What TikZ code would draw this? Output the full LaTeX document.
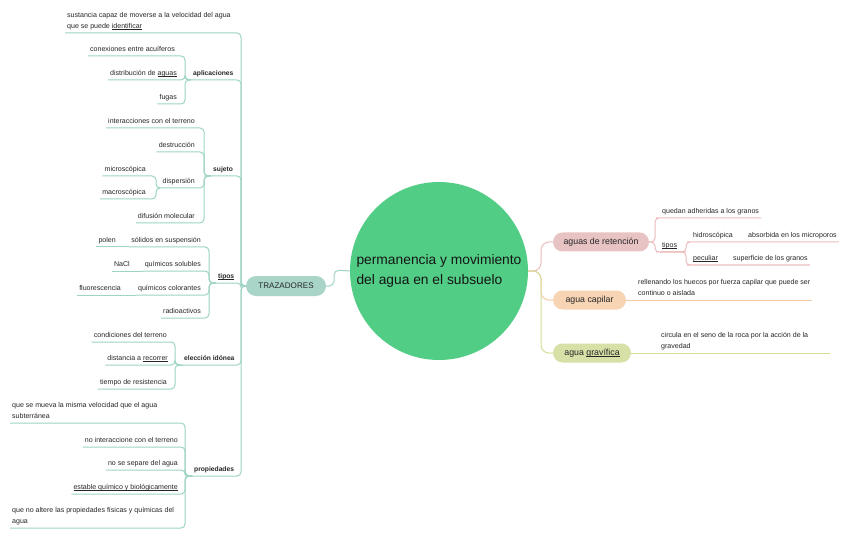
\documentclass[tikz,border=0pt]{standalone}
\usepackage{fontspec}
\setmainfont{Liberation Sans}
\usetikzlibrary{calc}
\definecolor{tealc}{HTML}{9DD4C4}
\definecolor{trzf}{HTML}{A8D5C8}
\definecolor{circf}{HTML}{52CD85}
\definecolor{pinkf}{HTML}{E8C3C4}
\definecolor{pinkl}{HTML}{EDBDBD}
\definecolor{peachf}{HTML}{F7D4B4}
\definecolor{peachl}{HTML}{F3CBA3}
\definecolor{greenf}{HTML}{D7E0A7}
\definecolor{greenl}{HTML}{D6DE98}
\definecolor{txt}{HTML}{262626}
\definecolor{ttl}{HTML}{151515}
\newcommand\myul[1]{\setbox0=\hbox{#1}\rlap{\rule[-1.3pt]{\wd0}{0.45pt}}\box0}
\newcommand\lastd{\rule[-2pt]{0pt}{0pt}}
\begin{document}
\begin{tikzpicture}[x=1pt,y=-1pt,
  lf/.style={font=\fontsize{7.05}{11}\selectfont, text=txt, inner xsep=2pt, inner ysep=2.5pt, text height=5.5pt, text depth=2pt},
  ml/.style={font=\fontsize{7.05}{11}\selectfont, text=txt, inner xsep=2pt, inner ysep=2.5pt, align=left},
  bf/.style={lf, font=\fontsize{6.7}{11}\selectfont\bfseries},
  pill/.style={rounded corners=9.5pt, minimum height=19pt, inner sep=0pt, font=\fontsize{8.8}{10}\selectfont, text=txt},
  tl/.style={draw=tealc, line width=1pt, rounded corners=4pt},
  pl/.style={draw=pinkl, line width=1pt, rounded corners=4pt},
  cl/.style={draw=peachl, line width=1pt, rounded corners=8pt},
  gl/.style={draw=greenl, line width=1pt, rounded corners=8pt}]
\fill[white] (0,0) rectangle (848,537);
\useasboundingbox (0,0) rectangle (848,537);

% centre
\node[circle, fill=circf, minimum size=178pt, inner sep=0pt, align=left, text=ttl,
      font=\fontsize{13.8}{20}\selectfont] (c) at (439,271)
      {permanencia y movimiento\\del agua en el subsuelo};
\node[pill, fill=trzf, minimum width=80pt, minimum height=20pt, rounded corners=10pt,
      font=\fontsize{8.1}{10}\selectfont] (tz) at (286,286) {TRAZADORES};
\coordinate (T) at (241,286);

% left branches
\node[ml, anchor=south west] (n1) at (65,33) {sustancia capaz de moverse a la velocidad del agua\\que se puede \myul{identificar}\lastd};
\node[bf, anchor=south west] (apl) at (191,80) {aplicaciones};
\node[bf, anchor=south west] (suj) at (211,176) {sujeto};
\node[bf, anchor=south west] (tip) at (216,283) {\myul{tipos}};
\node[bf, anchor=south west] (ele) at (182,365) {elección idónea};
\node[bf, anchor=south west] (pro) at (192,476) {propiedades};

\foreach \b in {n1,apl,suj,tip,ele,pro}
  \draw[tl] (\b.south west) -- (\b.south west -| T) -- (T |- tz.west) -- (tz.west);

% aplicaciones
\coordinate (tA) at (185,80);
\node[lf, anchor=south east] (con) at (177,56) {conexiones entre acuíferos};
\node[lf, anchor=south east] (dis) at (179,80) {distribución de \myul{aguas}};
\node[lf, anchor=south east] (fug) at (179,104) {fugas};
\foreach \k in {con,dis,fug}
  \draw[tl] (\k.south west) -- (\k.south west -| tA) -- (tA |- apl.south west) -- (apl.south west);

% sujeto
\coordinate (tS) at (204,176);
\node[lf, anchor=south east] (int) at (197,128) {interacciones con el terreno};
\node[lf, anchor=south east] (des) at (197,152) {destrucción};
\node[lf, anchor=south east] (dsp) at (197,188) {dispersión};
\node[lf, anchor=south east] (dif) at (197,223) {difusión molecular};
\foreach \k in {int,des,dsp,dif}
  \draw[tl] (\k.south west) -- (\k.south west -| tS) -- (tS |- suj.south west) -- (suj.south west);
\coordinate (tD) at (156,188);
\node[lf, anchor=south east] (mic) at (148,176) {microscópica};
\node[lf, anchor=south east] (mac) at (148,199) {macroscópica};
\foreach \k in {mic,mac}
  \draw[tl] (\k.south west) -- (\k.south west -| tD) -- (tD |- dsp.south west) -- (dsp.south west);

% tipos
\coordinate (tT) at (209,283);
\node[lf, anchor=south east] (sol) at (203,247) {sólidos en suspensión};
\node[lf, anchor=south east] (qso) at (203,271) {químicos solubles};
\node[lf, anchor=south east] (qco) at (203,295) {químicos colorantes};
\node[lf, anchor=south east] (rad) at (203,318) {radioactivos};
\foreach \k in {sol,qso,qco,rad}
  \draw[tl] (\k.south west) -- (\k.south west -| tT) -- (tT |- tip.south west) -- (tip.south west);
\node[lf, anchor=south east] (pol) at (118,247) {polen};
\node[lf, anchor=south east] (nac) at (132,271) {NaCl};
\node[lf, anchor=south east] (flu) at (123,295) {fluorescencia};
\draw[tl] (pol.south west) -- (sol.south west);
\draw[tl] (nac.south west) -- (qso.south west);
\draw[tl] (flu.south west) -- (qco.south west);

% eleccion
\coordinate (tE) at (175,365);
\node[lf, anchor=south east] (cnd) at (169,342) {condiciones del terreno};
\node[lf, anchor=south east] (dst) at (170,365) {distancia a \myul{recorrer}};
\node[lf, anchor=south east] (tie) at (169,389) {tiempo de resistencia};
\foreach \k in {cnd,dst,tie}
  \draw[tl] (\k.south west) -- (\k.south west -| tE) -- (tE |- ele.south west) -- (ele.south west);

% propiedades
\coordinate (tP) at (185,476);
\node[ml, anchor=south west] (p1) at (10,423) {que se mueva la misma velocidad que el agua\\subterránea\lastd};
\node[lf, anchor=south east] (p2) at (180,447) {no interaccione con el terreno};
\node[lf, anchor=south east] (p3) at (180,470) {no se separe del agua};
\node[lf, anchor=south east] (p4) at (180,494) {\myul{estable químico y biológicamente}};
\node[ml, anchor=south west] (p5) at (10,528) {que no altere las propiedades físicas y químicas del\\agua\lastd};
\foreach \k in {p1,p2,p3,p4,p5}
  \draw[tl] (\k.south west) -- (\k.south west -| tP) -- (tP |- pro.south west) -- (pro.south west);

% connector trazadores -> centre
\draw[tl, rounded corners=5pt] (tz.east) -- (334,286) -- (334,270) -- (c.west);

% right side
\coordinate (hub) at (541,271);
\node[pill, fill=pinkf, minimum width=96pt] (ret) at (601,242) {aguas de retención};
\node[pill, fill=peachf, minimum width=73pt] (cap) at (589.5,300) {agua capilar};
\node[pill, fill=greenf, minimum width=78pt] (gra) at (592,353) {agua \myul{gravífica}};
\draw[pl, rounded corners=8pt] (c.east) -- (hub) -- (hub |- ret.west) -- (ret.west);
\draw[cl] (c.east) -- (hub) -- (hub |- cap.west) -- (cap.west);
\draw[gl] (c.east) -- (hub) -- (hub |- gra.west) -- (gra.west);

\coordinate (rT) at (655,242);
\coordinate (rT2) at (686,252);
\node[lf, anchor=south west] (que) at (660,218) {quedan adheridas a los granos};
\node[lf, anchor=south west] (tps) at (660,252) {\myul{tipos}};
\node[lf, anchor=south west] (hid) at (691,242) {hidroscópica};
\node[lf, anchor=south west] (abs) at (746,242) {absorbida en los microporos};
\node[lf, anchor=south west] (pec) at (691,265) {\myul{peculiar}};
\node[lf, anchor=south west] (sup) at (731,265) {superficie de los granos};
\draw[pl] (ret.east) -- (rT) -- (rT |- que.south west) -- (que.south west) -- (que.south east);
\draw[pl] (ret.east) -- (rT) -- (rT |- tps.south west) -- (tps.south west) -- (rT2);
\draw[pl] (tps.south west) -- (rT2) -- (rT2 |- hid.south west) -- (hid.south west) -- (abs.south east);
\draw[pl] (tps.south west) -- (rT2) -- (rT2 |- pec.south west) -- (pec.south west) -- (sup.south east);

\node[ml, anchor=south west] (rel) at (636,300) {rellenando los huecos por fuerza capilar que puede ser\\continuo o aislada\lastd};
\draw[cl] (cap.east) -- (cap.east -| rel.south east);

\node[ml, anchor=south west] (cir) at (659,353) {circula en el seno de la roca por la acción de la\\gravedad\lastd};
\coordinate (gend) at (830,353);
\draw[gl] (gra.east) -- (gend);
\end{tikzpicture}
\end{document}
